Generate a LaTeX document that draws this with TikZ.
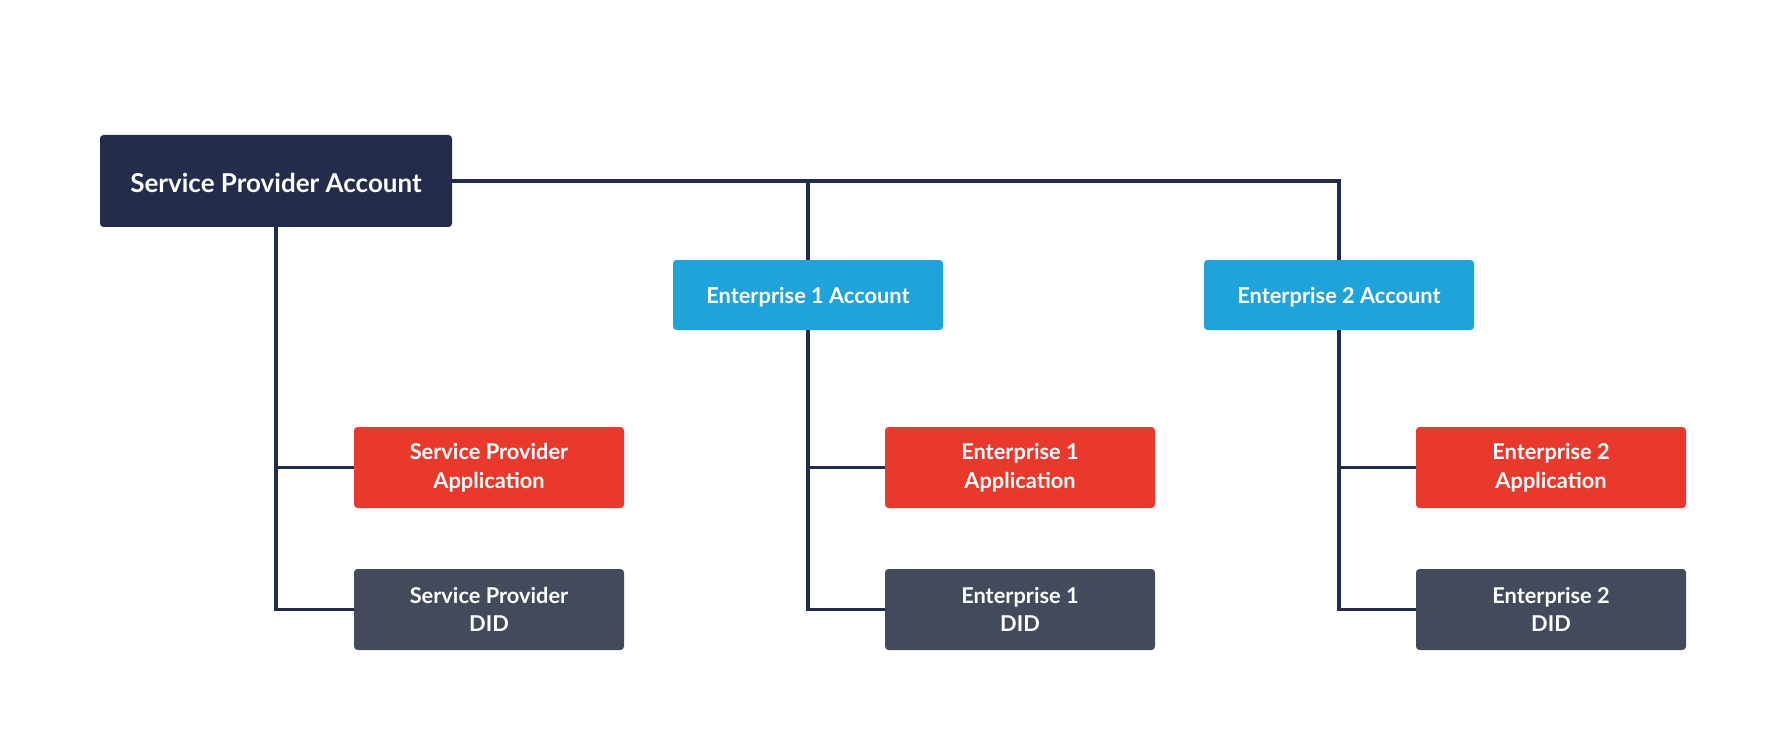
\documentclass[tikz,border=0pt]{standalone}
\usepackage{fontspec}
\setmainfont{Lato}
\definecolor{navy}{HTML}{232D4B}
\definecolor{skyb}{HTML}{1FA3DB}
\definecolor{redb}{HTML}{E8392C}
\definecolor{grayb}{HTML}{434A5C}
\newcommand{\lowtxt}[1]{\raisebox{-2.3pt}[\height][\depth]{#1}}
\begin{document}
\begin{tikzpicture}[x=1pt,y=1pt,
  box/.style={rectangle, rounded corners=3.5pt, inner sep=0pt, text=white, align=center, font=\bfseries\fontsize{21.8}{28.5}\selectfont},
  topbox/.style={box, fill=navy, minimum width=352pt, minimum height=92pt, font=\bfseries\fontsize{26}{30}\selectfont},
  accbox/.style={box, fill=skyb, minimum width=270pt, minimum height=70pt},
  appbox/.style={box, fill=redb, minimum width=270pt, minimum height=81pt},
  didbox/.style={box, fill=grayb, minimum width=270pt, minimum height=81pt},
  conn/.style={draw=navy, line width=3.3pt}]
\fill[white] (0,0) rectangle (1788,-754);
\useasboundingbox (0,0) rectangle (1788,-754);
\node[topbox] (sp) at (276,-181) {\lowtxt{Service Provider Account}};
\node[accbox] (e1) at (808,-295) {\lowtxt{Enterprise 1 Account}};
\node[accbox] (e2) at (1339,-295) {\lowtxt{Enterprise 2 Account}};
\node[appbox] (spapp) at (489,-467.5) {Service Provider\\Application};
\node[didbox] (spdid) at (489,-609.5) {Service Provider\\DID};
\node[appbox] (e1app) at (1020,-467.5) {Enterprise 1\\Application};
\node[didbox] (e1did) at (1020,-609.5) {Enterprise 1\\DID};
\node[appbox] (e2app) at (1551,-467.5) {Enterprise 2\\Application};
\node[didbox] (e2did) at (1551,-609.5) {Enterprise 2\\DID};
\draw[conn] (sp.east) -| (e2.north);
\draw[conn] (e1.north) |- (sp.east);
\draw[conn] (sp.south) |- (spapp.west);
\draw[conn] (sp.south) |- (spdid.west);
\draw[conn] (e1.south) |- (e1app.west);
\draw[conn] (e1.south) |- (e1did.west);
\draw[conn] (e2.south) |- (e2app.west);
\draw[conn] (e2.south) |- (e2did.west);
\end{tikzpicture}
\end{document}
